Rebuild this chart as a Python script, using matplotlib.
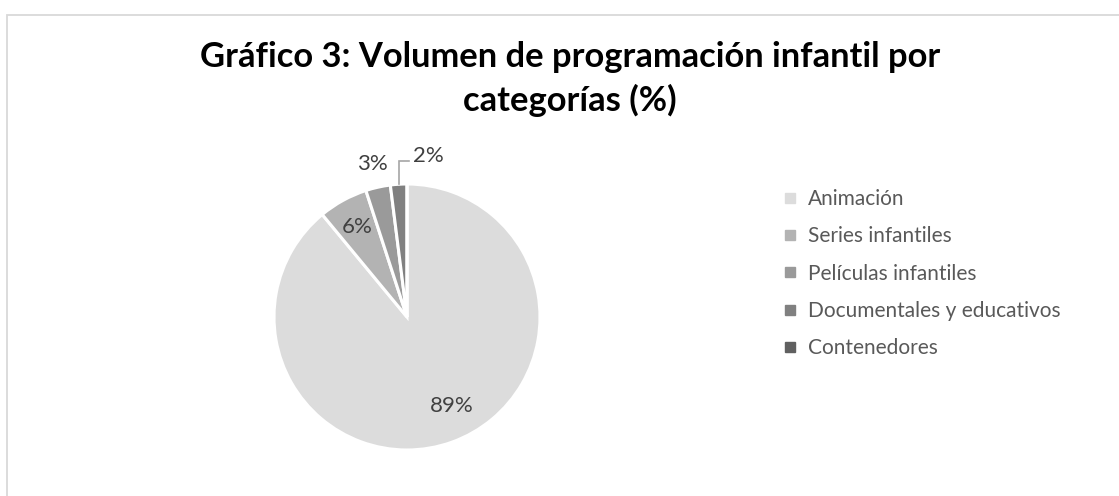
import matplotlib
matplotlib.use("Agg")
import matplotlib.pyplot as plt
import numpy as np
from matplotlib.patches import Rectangle
from matplotlib.lines import Line2D

categories = ["Animación", "Series infantiles", "Películas infantiles",
              "Documentales y educativos", "Contenedores"]
values = [89, 6, 3, 2, 0]
colors = ["#dcdcdc", "#b3b3b3", "#9a9a9a", "#808080", "#606060"]
title = "Gráfico 3: Volumen de programación infantil por\ncategorías (%)"

W, H = 1119, 496
fig = plt.figure(figsize=(W / 100, H / 100), dpi=100)
FONT = "Lato"

# chart border
fig.patches.append(Rectangle((7 / W, -0.1), 1.2, 1 - 15 / H + 0.1,
                             transform=fig.transFigure, fill=False,
                             edgecolor="#d9d9d9", linewidth=1.3))

cx, cy, R = 407, 317, 133
ax = fig.add_axes([(cx - R) / W, (H - cy - R) / H, 2 * R / W, 2 * R / H])

wedges, _ = ax.pie(values, colors=colors, startangle=90, counterclock=False,
                   radius=1, wedgeprops=dict(edgecolor="white", linewidth=2.2))
ax.set_xlim(-1, 1)
ax.set_ylim(-1, 1)
ax.set_aspect("equal")
ax.axis("off")

total = sum(values)
label_r = [0.75, 0.77, 1.18, None, None]
label_dang = [7, 0, 0, 0, 0]
start = 90.0
for i, v in enumerate(values):
    span = 360.0 * v / total
    mid = np.deg2rad(start - span / 2)
    start -= span
    if v == 0:
        continue
    txt = f"{v}%"
    if label_r[i] is not None:
        r = label_r[i]
        a = mid + np.deg2rad(label_dang[i])
        ax.text(r * np.cos(a), r * np.sin(a), txt, ha="center", va="center",
                fontsize=16, color="#404040", family=FONT, clip_on=False)
    else:
        x0, y0 = np.cos(mid), np.sin(mid)
        y1 = 1.17
        x2 = x0 + 0.08
        ax.plot([x0, x0, x2], [y0, y1, y1], color="#a6a6a6", lw=1.2,
                clip_on=False, solid_joinstyle="miter")
        ax.text(x2 + 0.03, y1 + 0.04, txt, ha="left", va="center",
                fontsize=16, color="#404040", family=FONT, clip_on=False)

fig.text(570 / W, 1 - 79 / H, title, ha="center", va="center",
         fontsize=24.8, fontweight="bold", family=FONT, color="#000000",
         linespacing=1.38)

handles = [Line2D([], [], marker="s", linestyle="none", markersize=7,
                  markerfacecolor=c, markeredgecolor=c) for c in colors]
leg = fig.legend(handles, categories, loc="upper left",
                 bbox_to_anchor=(784 / W, 1 - 189 / H), frameon=False,
                 prop=dict(family=FONT, size=15), labelcolor="#595959",
                 handlelength=0.6, handletextpad=0.55, labelspacing=0.83,
                 borderpad=0, borderaxespad=0)

fig.savefig("out.png", dpi=100, facecolor="white")
